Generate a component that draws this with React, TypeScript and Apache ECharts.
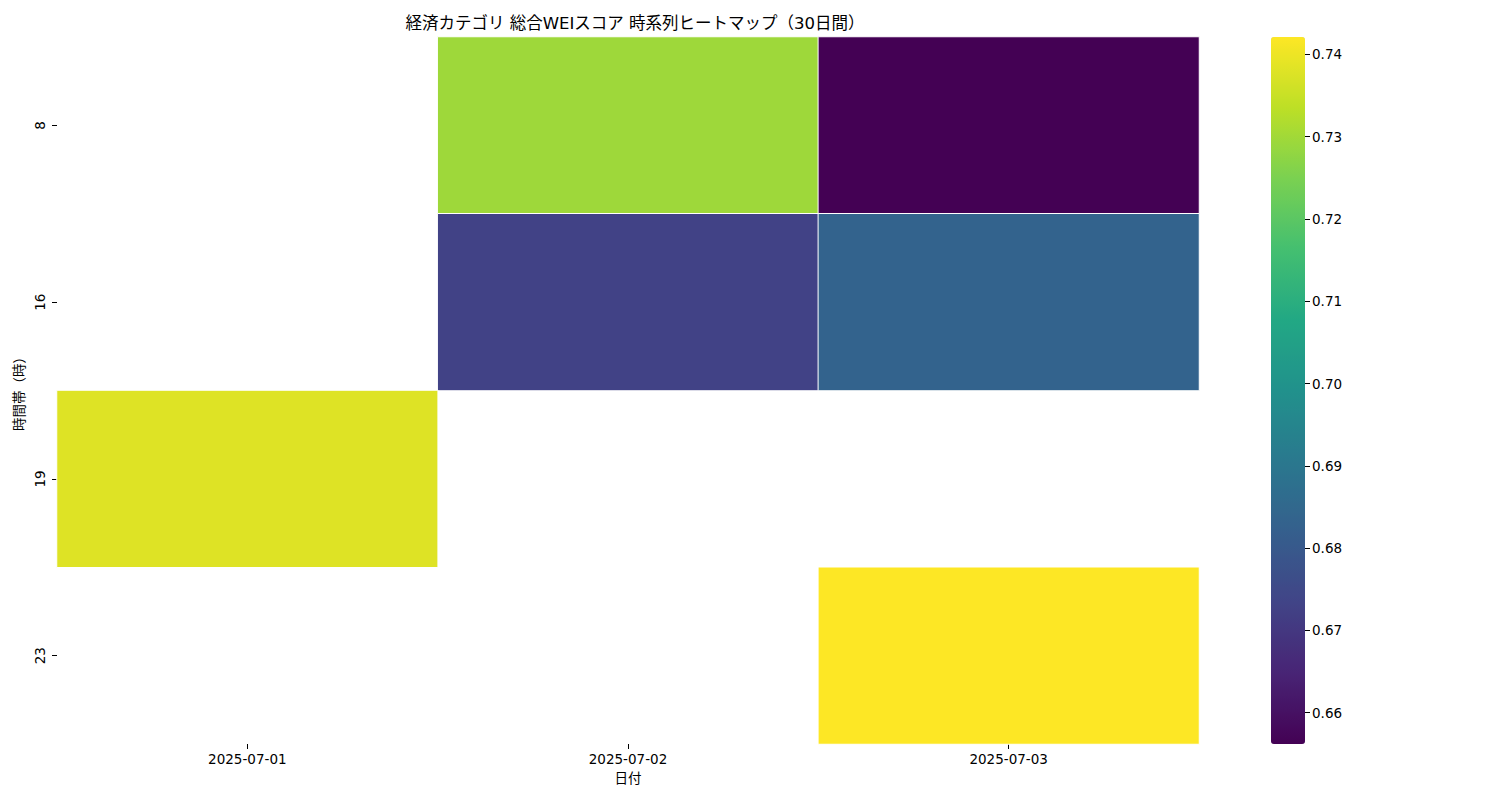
import React, { useEffect, useRef } from "react";
import * as echarts from "echarts";

const dates = ["2025-07-01", "2025-07-02", "2025-07-03"];
const hours = ["8", "16", "19", "23"];
// [dateIndex, hourIndex, score]
const cells: [number, number, number][] = [
  [1, 0, 0.7295],
  [2, 0, 0.6562],
  [1, 1, 0.6728],
  [2, 1, 0.6835],
  [0, 2, 0.738],
  [2, 3, 0.7421],
];
const colorTicks = [0.66, 0.67, 0.68, 0.69, 0.7, 0.71, 0.72, 0.73, 0.74];
const vMin = 0.6562;
const vMax = 0.7421;
const viridis = [
  "#440154", "#482475", "#414487", "#355f8d", "#2a788e", "#21918c",
  "#22a884", "#44bf70", "#7ad151", "#bddf26", "#fde725",
];

const FONT = "'DejaVu Sans', 'Noto Sans CJK JP', sans-serif";
const FS = 13.5;

export default function App() {
  const ref = useRef<HTMLDivElement>(null);
  useEffect(() => {
    const chart = echarts.init(ref.current!, null, { renderer: "svg" });
    chart.setOption({
      animation: false,
      textStyle: { fontFamily: FONT },
      title: {
        text: "経済カテゴリ 総合WEIスコア 時系列ヒートマップ（30日間）",
        left: 630,
        textAlign: "center",
        top: 10,
        textStyle: { fontSize: 16.5, fontWeight: "normal", color: "#000", fontFamily: FONT },
      },
      grid: [
        { left: 57, top: 37, right: 301, bottom: 56 },
        { left: 1271, top: 37, width: 34, bottom: 56 },
      ],
      xAxis: [
        {
          type: "category",
          data: dates,
          gridIndex: 0,
          name: "日付",
          nameLocation: "middle",
          nameGap: 27,
          nameTextStyle: { fontSize: FS, color: "#000", fontFamily: FONT },
          axisLine: { show: false },
          axisTick: { show: true, alignWithLabel: true, length: 5, lineStyle: { color: "#000" } },
          axisLabel: { fontSize: FS, color: "#000", margin: 8, fontFamily: FONT },
          splitLine: { show: false },
        },
        { type: "category", gridIndex: 1, data: [""], show: false },
      ],
      yAxis: [
        {
          type: "category",
          data: hours,
          inverse: true,
          gridIndex: 0,
          name: "時間帯（時）",
          nameLocation: "middle",
          nameGap: 30,
          nameRotate: 90,
          nameTextStyle: { fontSize: FS, color: "#000", fontFamily: FONT },
          axisLine: { show: false },
          axisTick: { show: true, alignWithLabel: true, length: 5, lineStyle: { color: "#000" } },
          axisLabel: { fontSize: FS, color: "#000", rotate: 90, margin: 10, fontFamily: FONT },
          splitLine: { show: false },
        },
        {
          type: "value",
          gridIndex: 1,
          position: "right",
          min: vMin,
          max: vMax,
          axisLine: { show: false },
          splitLine: { show: false },
          axisTick: {
            show: true,
            length: 5,
            customValues: colorTicks,
            lineStyle: { color: "#000" },
          },
          axisLabel: {
            fontSize: FS,
            color: "#000",
            margin: 7,
            fontFamily: FONT,
            customValues: colorTicks,
            formatter: (v: number) => v.toFixed(2),
          },
        },
      ],
      visualMap: {
        type: "continuous",
        min: vMin,
        max: vMax,
        seriesIndex: 0,
        calculable: false,
        realtime: false,
        text: ["", ""],
        showLabel: false,
        left: 1271,
        top: 37,
        padding: 0,
        itemWidth: 34,
        itemHeight: 707,
        inRange: { color: viridis },
        hoverLink: false,
      },
      series: [
        {
          type: "heatmap",
          xAxisIndex: 0,
          yAxisIndex: 0,
          data: cells,
          itemStyle: { borderColor: "#fff", borderWidth: 1 },
          emphasis: { disabled: true },
        },
      ],
    });
    return () => chart.dispose();
  }, []);
  return <div ref={ref} style={{ width: 1500, height: 800, margin: -8 }} />;
}
